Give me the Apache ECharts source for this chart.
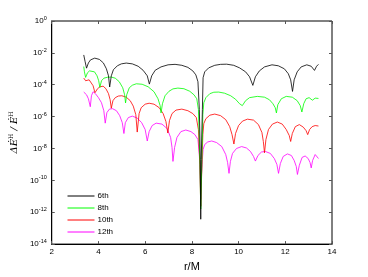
<!DOCTYPE html>
<html><head><meta charset="utf-8">
<script src="https://cdn.jsdelivr.net/npm/echarts@6/dist/echarts.min.js"></script>
<style>html,body{margin:0;padding:0;background:#fff}#c{width:368px;height:277px}</style>
</head><body><div id="c"></div>
<script>
// tick labels
const xTicks = [2, 4, 6, 8, 10, 12, 14];
const yExpTicks = [0, -2, -4, -6, -8, -10, -12, -14];
const seriesNames = ['6th', '8th', '10th', '12th'];
// 6th order: r/M and log10(ΔĖ/Ė)
const x6 = [3.37,3.43,3.49,3.57,3.66,3.84,4.04,4.21,4.34,4.43,4.48,4.55,4.64,4.81,4.98,5.19,5.45,5.70,5.91,6.09,6.18,6.28,6.43,6.68,6.98,7.28,7.57,7.83,8.04,8.17,8.26,8.32,8.36,8.38,8.40,8.45,8.48,8.55,8.72,8.98,9.23,9.49,9.79,10.04,10.30,10.47,10.61,10.72,10.89,11.11,11.43,11.70,11.96,12.13,12.23,12.31,12.38,12.51,12.68,12.92,13.11,13.25,13.34,13.42];
const e6 = [-2.13,-2.56,-2.96,-2.63,-2.44,-2.33,-2.41,-2.63,-3.0,-3.44,-4.14,-3.44,-3.06,-2.81,-2.69,-2.64,-2.69,-2.84,-3.09,-3.44,-3.96,-3.44,-3.09,-2.88,-2.75,-2.72,-2.78,-2.91,-3.13,-3.38,-3.81,-5.56,-8.69,-12.44,-8.69,-5.56,-3.56,-3.19,-2.94,-2.78,-2.72,-2.71,-2.78,-2.94,-3.19,-3.5,-4.04,-3.5,-3.13,-2.88,-2.75,-2.81,-3.0,-3.31,-3.69,-4.42,-3.69,-3.19,-2.88,-2.75,-2.84,-3.1,-2.84,-2.72];
// 8th order
const x8 = [3.37,3.40,3.45,3.53,3.62,3.70,3.83,3.94,4.01,4.06,4.13,4.23,4.38,4.55,4.72,4.89,5.04,5.12,5.16,5.21,5.32,5.45,5.62,5.87,6.13,6.38,6.55,6.64,6.68,6.74,6.85,7.02,7.19,7.40,7.66,7.91,8.09,8.21,8.28,8.34,8.38,8.43,8.47,8.51,8.60,8.77,8.94,9.15,9.40,9.66,9.87,10.04,10.16,10.30,10.47,10.80,11.11,11.32,11.47,11.57,11.62,11.68,11.83,12.04,12.30,12.51,12.64,12.71,12.79,12.89,13.02,13.16,13.28,13.42];
const e8 = [-2.86,-3.19,-3.54,-3.25,-3.13,-3.06,-3.19,-3.44,-3.75,-4.17,-3.75,-3.59,-3.53,-3.52,-3.59,-3.81,-4.19,-4.63,-5.14,-4.63,-4.19,-4.03,-3.94,-3.97,-4.13,-4.44,-4.88,-5.31,-5.77,-5.19,-4.69,-4.41,-4.26,-4.21,-4.25,-4.41,-4.63,-4.88,-5.56,-8.69,-11.8,-8.69,-5.88,-5.13,-4.81,-4.56,-4.47,-4.46,-4.53,-4.69,-4.91,-5.19,-5.31,-5.0,-4.81,-4.73,-4.78,-4.94,-5.19,-5.44,-5.77,-5.25,-4.88,-4.73,-4.78,-5.0,-5.31,-5.71,-5.19,-4.88,-4.81,-4.97,-4.84,-4.86];
// 10th order
const x10 = [3.37,3.45,3.51,3.60,3.68,3.77,3.85,3.96,4.06,4.20,4.32,4.43,4.50,4.55,4.62,4.72,4.85,5.0,5.19,5.36,5.49,5.60,5.66,5.74,5.83,6.0,6.17,6.38,6.60,6.77,6.89,6.97,7.04,7.15,7.32,7.57,7.83,8.04,8.19,8.28,8.34,8.38,8.43,8.47,8.51,8.60,8.77,8.98,9.23,9.45,9.62,9.72,9.80,9.87,10.0,10.17,10.38,10.64,10.85,11.0,11.06,11.11,11.17,11.28,11.45,11.66,11.87,12.04,12.17,12.23,12.30,12.43,12.60,12.77,12.89,12.96,13.04,13.15,13.28,13.42];
const e10 = [-3.58,-3.75,-3.81,-3.69,-3.81,-4.06,-4.5,-4.25,-4.13,-4.09,-4.25,-4.56,-4.94,-5.47,-5.0,-4.81,-4.71,-4.69,-4.78,-5.0,-5.34,-5.88,-6.97,-5.81,-5.44,-5.22,-5.16,-5.22,-5.44,-5.81,-6.31,-7.03,-6.25,-5.81,-5.59,-5.53,-5.63,-5.81,-6.06,-6.81,-9.0,-11.63,-9.0,-7.13,-6.44,-6.13,-5.91,-5.84,-5.94,-6.19,-6.63,-7.13,-7.72,-7.06,-6.56,-6.28,-6.16,-6.22,-6.5,-7.0,-7.56,-8.27,-7.44,-6.81,-6.47,-6.34,-6.47,-6.81,-7.19,-7.56,-7.06,-6.63,-6.5,-6.66,-6.88,-7.13,-6.81,-6.63,-6.56,-6.59];
// 12th order
const x12 = [3.37,3.49,3.57,3.65,3.70,3.77,3.87,4.0,4.13,4.23,4.29,4.36,4.47,4.60,4.77,4.91,5.02,5.09,5.15,5.28,5.45,5.66,5.85,6.0,6.09,6.17,6.30,6.47,6.72,6.94,7.09,7.15,7.19,7.26,7.36,7.53,7.74,7.96,8.13,8.26,8.32,8.36,8.38,8.40,8.45,8.48,8.55,8.68,8.85,9.06,9.28,9.45,9.53,9.59,9.65,9.74,9.91,10.13,10.34,10.51,10.64,10.72,10.83,10.98,11.15,11.36,11.53,11.64,11.71,11.79,11.91,12.09,12.26,12.38,12.47,12.52,12.60,12.72,12.85,12.98,13.06,13.11,13.17,13.28,13.36,13.42];
const e12 = [-4.46,-4.63,-4.88,-5.38,-4.69,-4.44,-4.56,-4.81,-5.13,-5.63,-6.41,-5.75,-5.53,-5.5,-5.63,-5.94,-6.38,-7.06,-6.38,-6.06,-5.97,-6.09,-6.38,-6.81,-7.53,-6.94,-6.56,-6.41,-6.47,-6.75,-7.31,-7.94,-8.81,-7.94,-7.31,-6.94,-6.84,-6.94,-7.13,-7.44,-8.38,-9.94,-11.19,-9.94,-8.69,-8.06,-7.75,-7.59,-7.53,-7.63,-7.88,-8.38,-8.88,-9.56,-8.81,-8.31,-8.0,-7.88,-7.97,-8.19,-8.5,-8.79,-8.44,-8.22,-8.19,-8.31,-8.63,-9.0,-9.56,-8.94,-8.5,-8.34,-8.44,-8.75,-9.13,-9.63,-9.06,-8.56,-8.47,-8.63,-8.88,-9.22,-8.75,-8.38,-8.5,-8.63];

const colors = ['#000000', '#00ff00', '#ff0000', '#ff00ff'];
const xsAll = [x6, x8, x10, x12];
const esAll = [e6, e8, e10, e12];

const FONT = 'Liberation Sans';
const chart = echarts.init(document.getElementById('c'), null, {renderer: 'canvas'});

function yLabel(v) {
  const e = Math.round(Math.log10(v));
  return '{b|10}{s|' + e + '}';
}
const richY = {
  b: {fontFamily: FONT, fontSize: 8, color: '#000'},
  s: {fontFamily: FONT, fontSize: 5.5, color: '#000', verticalAlign: 'top', padding: [0, 0, 5, 0]}
};

const series = seriesNames.map((n, i) => ({
  name: n,
  type: 'line',
  xAxisIndex: 0, yAxisIndex: 0,
  symbol: 'none',
  smooth: false,
  lineStyle: {color: colors[i], width: 0.8},
  itemStyle: {color: colors[i]},
  data: xsAll[i].map((x, k) => [x, Math.pow(10, esAll[i][k])]),
  z: 10 - i
}));

chart.setOption({
  animation: false,
  backgroundColor: '#fff',
  textStyle: {fontFamily: FONT},
  grid: {left: 50, right: 36, top: 21, bottom: 32, show: true, borderColor: '#000', borderWidth: 1},
  legend: {
    data: seriesNames,
    orient: 'vertical',
    left: 62, top: 187,
    itemWidth: 27, itemHeight: 7, itemGap: 4,
    itemStyle: {opacity: 0},
    lineStyle: {width: 1},
    textStyle: {fontFamily: FONT, fontSize: 8, color: '#000', padding: [0, 0, 0, -2]}
  },
  xAxis: [{
    type: 'value', min: xTicks[0], max: xTicks[xTicks.length - 1], interval: 2,
    name: 'r/M', nameLocation: 'middle', nameGap: 15,
    nameTextStyle: {fontFamily: FONT, fontSize: 11, color: '#000'},
    axisLine: {show: true, lineStyle: {color: '#000', width: 1}},
    axisTick: {show: true, inside: true, length: 3, lineStyle: {color: '#555'}},
    axisLabel: {fontFamily: FONT, fontSize: 8, color: '#000', margin: 4},
    splitLine: {show: false}
  }, {
    type: 'value', position: 'top', min: 2, max: 14, interval: 2,
    axisLine: {show: false},
    axisTick: {show: true, inside: true, length: 3, lineStyle: {color: '#555'}},
    axisLabel: {show: false}, splitLine: {show: false}
  }],
  yAxis: [{
    type: 'log', logBase: 10, min: 1e-14, max: 1, interval: 2,
    name: '{i|ΔĖ}{s|H}{i| / Ė}{s|H}', nameLocation: 'middle', nameGap: 30, nameRotate: 90,
    nameTextStyle: {
      rich: {
        i: {fontFamily: 'DejaVu Serif', fontStyle: 'italic', fontSize: 10, color: '#000'},
        s: {fontFamily: 'DejaVu Serif', fontSize: 6, color: '#000', verticalAlign: 'top', padding: [0, 0, 6, 0]}
      }
    },
    axisLine: {show: true, lineStyle: {color: '#000', width: 1}},
    axisTick: {show: true, inside: true, length: 3, lineStyle: {color: '#555'}},
    axisLabel: {formatter: yLabel, rich: richY, margin: 5},
    splitLine: {show: false}
  }, {
    type: 'log', logBase: 10, min: 1e-14, max: 1, interval: 2, position: 'right',
    axisLine: {show: false},
    axisTick: {show: true, inside: true, length: 3, lineStyle: {color: '#555'}},
    axisLabel: {show: false}, splitLine: {show: false}
  }],
  series: series
});
</script></body></html>
